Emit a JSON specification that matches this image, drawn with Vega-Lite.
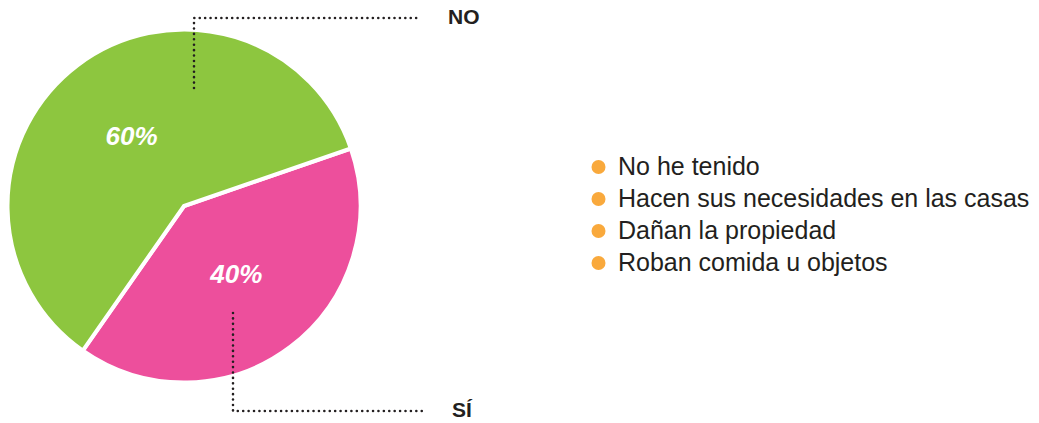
{
  "$schema": "https://vega.github.io/schema/vega-lite/v6.json",
  "width": 368,
  "height": 412,
  "autosize": {"type": "none"},
  "padding": {"left": 0, "top": 0, "right": 671, "bottom": 11},
  "background": "white",
  "config": {"view": {"stroke": null}, "font": "Liberation Sans"},
  "datasets": {
    "pie": [
      {"respuesta": "SÍ", "porcentaje": 40, "orden": 1, "etiqueta": "40%"},
      {"respuesta": "NO", "porcentaje": 60, "orden": 2, "etiqueta": "60%"}
    ],
    "guias": [
      {"grupo": "NO", "orden": 1, "x": 194, "y": 88},
      {"grupo": "NO", "orden": 2, "x": 194, "y": 18},
      {"grupo": "NO", "orden": 3, "x": 418, "y": 18},
      {"grupo": "SÍ", "orden": 1, "x": 233, "y": 313},
      {"grupo": "SÍ", "orden": 2, "x": 233, "y": 411},
      {"grupo": "SÍ", "orden": 3, "x": 422, "y": 411}
    ],
    "leyenda": [
      {"motivo": "No he tenido"},
      {"motivo": "Hacen sus necesidades en las casas"},
      {"motivo": "Dañan la propiedad"},
      {"motivo": "Roban comida u objetos"}
    ]
  },
  "layer": [
    {
      "data": {"name": "pie"},
      "mark": {"type": "arc", "outerRadius": 176.5, "stroke": "white", "strokeWidth": 4},
      "encoding": {
        "theta": {"field": "porcentaje", "type": "quantitative", "stack": true, "scale": {"range": [1.239, 7.522]}},
        "order": {"field": "orden"},
        "color": {"field": "respuesta", "type": "nominal", "scale": {"domain": ["SÍ", "NO"], "range": ["#ed4f9c", "#8dc63f"]}, "legend": null}
      }
    },
    {
      "data": {"name": "pie"},
      "mark": {"type": "text", "radius": 87, "fontSize": 26, "fontWeight": "bold", "fontStyle": "italic", "fill": "white", "align": "center", "baseline": "middle"},
      "encoding": {
        "theta": {"field": "porcentaje", "type": "quantitative", "stack": true, "scale": {"range": [1.239, 7.522]}},
        "order": {"field": "orden"},
        "text": {"field": "etiqueta"}
      }
    },
    {
      "data": {"name": "guias"},
      "mark": {"type": "line", "stroke": "#231f20", "strokeWidth": 2.6, "strokeDash": [0.01, 5.4], "strokeCap": "round"},
      "encoding": {
        "x": {"field": "x", "type": "quantitative", "scale": {"domain": [0, 368], "nice": false, "zero": false}, "axis": null},
        "y": {"field": "y", "type": "quantitative", "scale": {"domain": [0, 412], "reverse": true, "nice": false, "zero": false}, "axis": null},
        "detail": {"field": "grupo"},
        "order": {"field": "orden"}
      }
    },
    {
      "data": {"name": "guias"},
      "transform": [{"filter": "datum.orden == 3"}],
      "mark": {"type": "text", "align": "left", "baseline": "middle", "dx": 30, "fontSize": 21, "fontWeight": "bold", "fill": "#231f20"},
      "encoding": {
        "x": {"field": "x", "type": "quantitative"},
        "y": {"field": "y", "type": "quantitative"},
        "text": {"field": "grupo"}
      }
    },
    {
      "data": {"name": "leyenda"},
      "mark": {"type": "point", "filled": true, "opacity": 0},
      "encoding": {
        "color": {
          "field": "motivo",
          "type": "nominal",
          "scale": {
            "domain": ["No he tenido", "Hacen sus necesidades en las casas", "Dañan la propiedad", "Roban comida u objetos"],
            "range": ["#f9a93c", "#f9a93c", "#f9a93c", "#f9a93c"]
          },
          "legend": {
            "title": null,
            "orient": "none",
            "legendX": 586,
            "legendY": 154.5,
            "direction": "vertical",
            "symbolType": "circle",
            "symbolSize": 196,
            "symbolOpacity": 1,
            "symbolStrokeWidth": 0,
            "labelFontSize": 25,
            "labelFont": "Liberation Sans",
            "labelColor": "#231f20",
            "labelOffset": 7,
            "labelLimit": 600,
            "rowPadding": 6,
            "padding": 0
          }
        }
      }
    }
  ],
  "resolve": {"scale": {"color": "independent"}}
}
